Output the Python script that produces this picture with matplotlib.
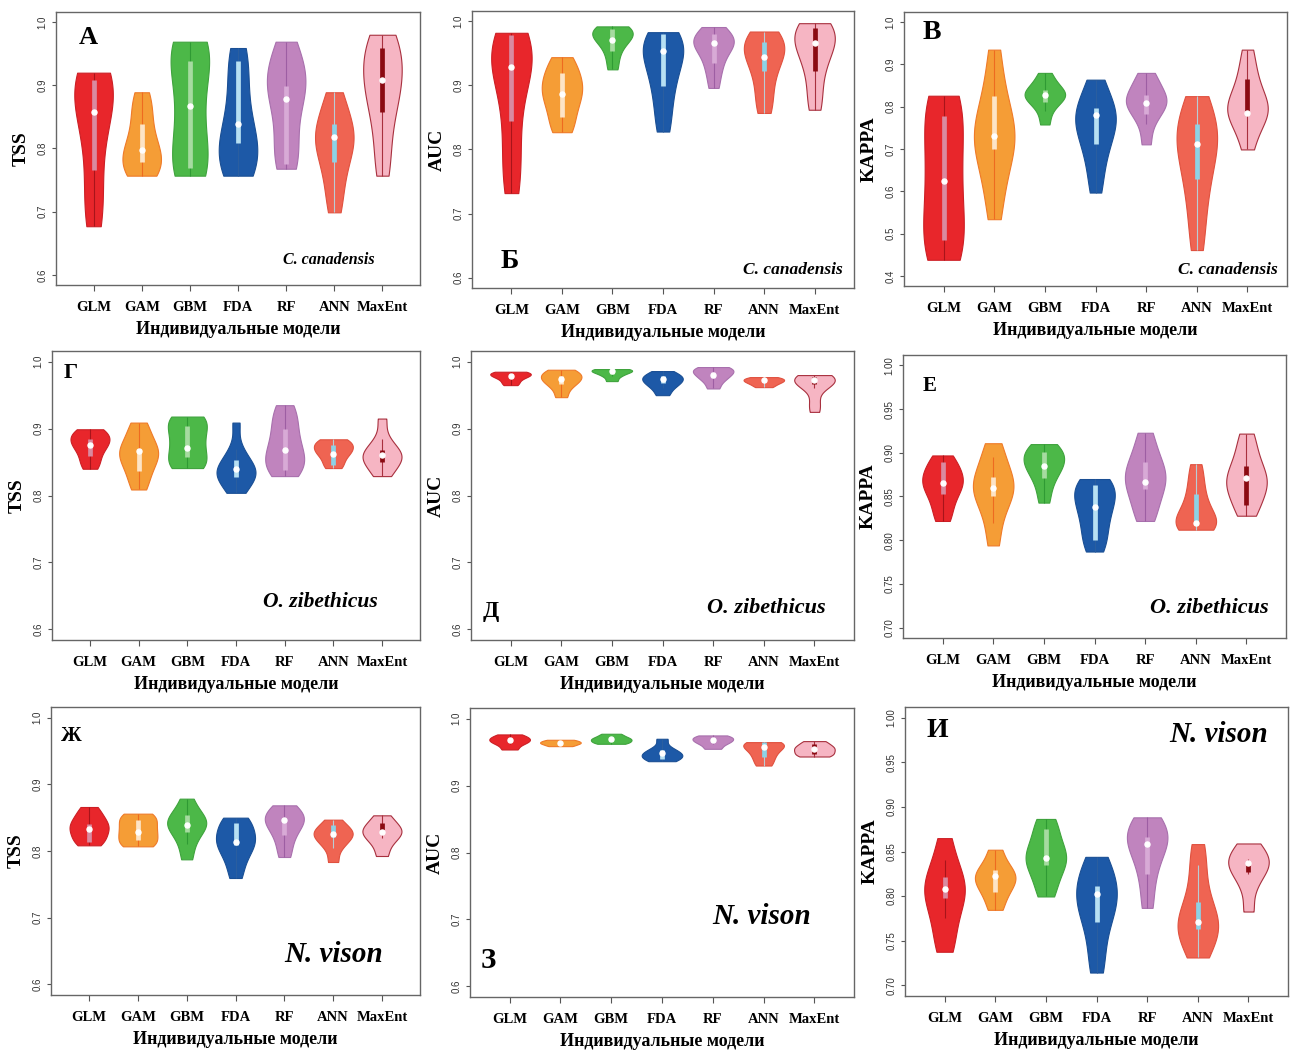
import numpy as np
import matplotlib
matplotlib.use("Agg")
import matplotlib.pyplot as plt

# ---------------- data ----------------
models = ["GLM", "GAM", "GBM", "FDA", "RF", "ANN", "MaxEnt"]
xlabel_text = "Индивидуальные модели"

# Panel А: TSS, C. canadensis
A_vals = [
    [0.677, 0.70, 0.74, 0.78, 0.82, 0.85, 0.86, 0.88, 0.90, 0.91, 0.92, 0.92],
    [0.757, 0.76, 0.77, 0.78, 0.79, 0.80, 0.81, 0.83, 0.85, 0.87, 0.889],
    [0.757, 0.757, 0.76, 0.77, 0.785, 0.80, 0.82, 0.84, 0.86, 0.88, 0.90, 0.92, 0.935, 0.95, 0.96, 0.966, 0.969, 0.969],
    [0.757, 0.76, 0.775, 0.79, 0.80, 0.815, 0.83, 0.85, 0.88, 0.91, 0.94, 0.959],
    [0.768, 0.78, 0.80, 0.83, 0.86, 0.88, 0.895, 0.905, 0.915, 0.93, 0.95, 0.969],
    [0.699, 0.73, 0.76, 0.78, 0.80, 0.81, 0.82, 0.83, 0.845, 0.865, 0.889],
    [0.757, 0.79, 0.83, 0.86, 0.88, 0.895, 0.91, 0.925, 0.94, 0.955, 0.97, 0.98],
]
A_q1 = [0.766, 0.778, 0.769, 0.809, 0.775, 0.778, 0.858]
A_med = [0.858, 0.797, 0.868, 0.839, 0.879, 0.818, 0.909]
A_q3 = [0.909, 0.838, 0.938, 0.938, 0.899, 0.838, 0.959]

# Panel Б: AUC, C. canadensis
B_vals = [
    [0.732, 0.76, 0.80, 0.84, 0.88, 0.91, 0.93, 0.94, 0.95, 0.96, 0.975, 0.982],
    [0.827, 0.84, 0.86, 0.875, 0.885, 0.895, 0.905, 0.915, 0.93, 0.944],
    [0.925, 0.945, 0.96, 0.97, 0.975, 0.98, 0.985, 0.99, 0.992],
    [0.828, 0.86, 0.89, 0.91, 0.93, 0.945, 0.955, 0.965, 0.975, 0.983],
    [0.896, 0.92, 0.935, 0.95, 0.96, 0.965, 0.97, 0.975, 0.98, 0.991],
    [0.857, 0.88, 0.905, 0.925, 0.94, 0.95, 0.96, 0.965, 0.975, 0.984],
    [0.862, 0.89, 0.92, 0.94, 0.955, 0.965, 0.975, 0.985, 0.99, 0.997],
]
B_q1 = [0.844, 0.851, 0.954, 0.899, 0.935, 0.922, 0.922]
B_med = [0.928, 0.887, 0.971, 0.953, 0.966, 0.945, 0.966]
B_q3 = [0.978, 0.920, 0.988, 0.980, 0.980, 0.968, 0.990]

# Panel В: KAPPA, C. canadensis
C_vals = [
    [0.438, 0.44, 0.46, 0.49, 0.52, 0.555, 0.59, 0.625, 0.66, 0.695, 0.73, 0.77, 0.80, 0.82, 0.826],
    [0.534, 0.60, 0.65, 0.69, 0.71, 0.73, 0.75, 0.77, 0.81, 0.86, 0.935],
    [0.758, 0.79, 0.81, 0.82, 0.825, 0.83, 0.835, 0.845, 0.86, 0.88],
    [0.597, 0.65, 0.69, 0.72, 0.74, 0.76, 0.775, 0.79, 0.80, 0.83, 0.864],
    [0.711, 0.76, 0.785, 0.80, 0.81, 0.815, 0.825, 0.84, 0.86, 0.88],
    [0.461, 0.53, 0.59, 0.63, 0.67, 0.70, 0.72, 0.74, 0.76, 0.79, 0.825],
    [0.699, 0.74, 0.77, 0.78, 0.79, 0.80, 0.815, 0.83, 0.86, 0.89, 0.935],
]
C_q1 = [0.485, 0.700, 0.811, 0.713, 0.782, 0.628, 0.785]
C_med = [0.624, 0.730, 0.827, 0.780, 0.809, 0.711, 0.785]
C_q3 = [0.777, 0.825, 0.840, 0.797, 0.827, 0.759, 0.865]

# Panel Г: TSS, O. zibethicus
D_vals = [
    [0.840, 0.85, 0.86, 0.87, 0.875, 0.88, 0.885, 0.89, 0.895, 0.899],
    [0.809, 0.825, 0.84, 0.85, 0.86, 0.865, 0.87, 0.88, 0.895, 0.909],
    [0.841, 0.843, 0.85, 0.86, 0.87, 0.88, 0.89, 0.90, 0.91, 0.916, 0.918],
    [0.804, 0.815, 0.825, 0.83, 0.835, 0.84, 0.845, 0.855, 0.87, 0.909],
    [0.829, 0.84, 0.845, 0.855, 0.865, 0.875, 0.89, 0.905, 0.92, 0.935],
    [0.841, 0.85, 0.86, 0.865, 0.87, 0.875, 0.88, 0.884],
    [0.829, 0.84, 0.85, 0.855, 0.86, 0.865, 0.87, 0.885, 0.915],
]
D_q1 = [0.859, 0.836, 0.858, 0.827, 0.838, 0.845, 0.850]
D_med = [0.876, 0.866, 0.871, 0.839, 0.868, 0.862, 0.861]
D_q3 = [0.885, 0.869, 0.904, 0.853, 0.899, 0.875, 0.868]

# Panel Д: AUC, O. zibethicus
E_vals = [
    [0.965, 0.97, 0.975, 0.978, 0.98, 0.982, 0.984, 0.985],
    [0.947, 0.96, 0.968, 0.972, 0.976, 0.98, 0.984, 0.988],
    [0.971, 0.978, 0.982, 0.985, 0.987, 0.988, 0.989],
    [0.950, 0.96, 0.966, 0.97, 0.974, 0.977, 0.98, 0.986],
    [0.960, 0.97, 0.976, 0.98, 0.984, 0.987, 0.99, 0.992],
    [0.962, 0.966, 0.969, 0.971, 0.973, 0.975, 0.977],
    [0.925, 0.94, 0.96, 0.966, 0.97, 0.973, 0.976, 0.978, 0.98],
]
E_q1 = [0.975, 0.966, 0.982, 0.968, 0.975, 0.969, 0.966]
E_med = [0.979, 0.974, 0.986, 0.974, 0.980, 0.972, 0.973]
E_q3 = [0.982, 0.979, 0.988, 0.978, 0.985, 0.974, 0.977]

# Panel Е: KAPPA, O. zibethicus
F_vals = [
    [0.822, 0.835, 0.848, 0.857, 0.863, 0.868, 0.873, 0.88, 0.888, 0.897],
    [0.794, 0.82, 0.84, 0.85, 0.858, 0.863, 0.87, 0.88, 0.895, 0.911],
    [0.843, 0.86, 0.872, 0.88, 0.885, 0.89, 0.895, 0.90, 0.905, 0.91],
    [0.787, 0.80, 0.812, 0.825, 0.835, 0.843, 0.852, 0.858, 0.865, 0.87],
    [0.822, 0.835, 0.85, 0.86, 0.867, 0.875, 0.882, 0.89, 0.905, 0.923],
    [0.812, 0.814, 0.817, 0.82, 0.825, 0.833, 0.843, 0.855, 0.87, 0.887],
    [0.828, 0.84, 0.852, 0.86, 0.866, 0.872, 0.88, 0.89, 0.905, 0.922],
]
F_q1 = [0.853, 0.851, 0.871, 0.800, 0.859, 0.817, 0.840]
F_med = [0.8655, 0.860, 0.885, 0.838, 0.867, 0.820, 0.871]
F_q3 = [0.890, 0.872, 0.901, 0.863, 0.890, 0.853, 0.885]

# Panel Ж: TSS, N. vison
G_vals = [
    [0.8085, 0.815, 0.822, 0.83, 0.835, 0.84, 0.847, 0.855, 0.866],
    [0.807, 0.81, 0.817, 0.825, 0.83, 0.838, 0.845, 0.852, 0.856],
    [0.7875, 0.81, 0.825, 0.835, 0.84, 0.845, 0.85, 0.86, 0.8785],
    [0.7595, 0.78, 0.795, 0.805, 0.812, 0.818, 0.825, 0.835, 0.845, 0.85],
    [0.791, 0.81, 0.825, 0.835, 0.843, 0.848, 0.853, 0.86, 0.8685],
    [0.7835, 0.805, 0.815, 0.822, 0.826, 0.83, 0.835, 0.847],
    [0.7925, 0.81, 0.82, 0.826, 0.83, 0.835, 0.842, 0.8535],
]
G_q1 = [0.8135, 0.816, 0.8285, 0.8085, 0.8235, 0.821, 0.831]
G_med = [0.8335, 0.8285, 0.8385, 0.8135, 0.847, 0.826, 0.8285]
G_q3 = [0.841, 0.846, 0.8535, 0.842, 0.850, 0.8385, 0.842]

# Panel З: AUC, N. vison
H_vals = [
    [0.954, 0.962, 0.966, 0.969, 0.972, 0.9765],
    [0.959, 0.962, 0.964, 0.966, 0.9685],
    [0.9625, 0.965, 0.968, 0.97, 0.973, 0.9775],
    [0.9365, 0.94, 0.944, 0.947, 0.95, 0.956, 0.97],
    [0.955, 0.962, 0.966, 0.969, 0.972, 0.975],
    [0.930, 0.94, 0.948, 0.955, 0.96, 0.963, 0.965],
    [0.9435, 0.947, 0.952, 0.956, 0.96, 0.9665],
]
H_q1 = [0.965, 0.962, 0.967, 0.940, 0.965, 0.9425, 0.9475]
H_med = [0.9675, 0.9635, 0.969, 0.949, 0.9675, 0.9575, 0.955]
H_q3 = [0.970, 0.965, 0.971, 0.9525, 0.970, 0.965, 0.9625]

# Panel И: KAPPA, N. vison
I_vals = [
    [0.7376, 0.755, 0.775, 0.79, 0.80, 0.808, 0.815, 0.825, 0.84, 0.865],
    [0.7846, 0.80, 0.81, 0.817, 0.822, 0.827, 0.835, 0.852],
    [0.7996, 0.815, 0.83, 0.838, 0.843, 0.85, 0.86, 0.875, 0.8865],
    [0.7143, 0.74, 0.765, 0.78, 0.79, 0.80, 0.808, 0.818, 0.83, 0.844],
    [0.7868, 0.815, 0.835, 0.85, 0.858, 0.865, 0.872, 0.88, 0.8883],
    [0.7312, 0.745, 0.758, 0.765, 0.77, 0.777, 0.79, 0.81, 0.835, 0.8583],
    [0.7827, 0.81, 0.825, 0.832, 0.837, 0.842, 0.85, 0.859],
]
I_q1 = [0.7981, 0.8045, 0.8346, 0.7707, 0.8244, 0.7632, 0.827]
I_med = [0.8083, 0.8226, 0.8429, 0.8026, 0.8583, 0.7707, 0.8372]
I_q3 = [0.8214, 0.829, 0.8748, 0.8113, 0.8665, 0.7932, 0.8346]

# ---------------- styles ----------------
fills = ["#e8262b", "#f59d36", "#4cb848", "#1d59a7", "#c084be", "#ef6452", "#f6b5c3"]
edges = ["#cc1f25", "#ef7a28", "#3fa33d", "#1a4f94", "#a870ad", "#e0513f", "#a8303e"]
wcols = ["#a8141a", "#ee6a20", "#2f9a34", "#2a5ea0", "#9d5ea3", "#b9cdd5", "#a8303e"]
bcols = ["#d98aa0", "#fde4c6", "#a6dba0", "#b7e0f3", "#d8aad6", "#8dd2e6", "#8b0a12"]

SERIF = "Liberation Serif"
SANS = "Liberation Sans"

W, H = 1293, 1052
fig = plt.figure(figsize=(W / 100, H / 100), dpi=100)

panels = [
    ("А", "TSS", "C. canadensis", A_vals, A_q1, A_med, A_q3, 0.6, 1.0, 0.1, "%.1f",
     (56, 12, 420, 285), (0.088, 0.908), 19, (0.75, 0.09), 11.5),
    ("Б", "AUC", "C. canadensis", B_vals, B_q1, B_med, B_q3, 0.6, 1.0, 0.1, "%.1f",
     (472, 11, 854, 288), (0.10, 0.094), 20, (0.84, 0.065), 12.5),
    ("В", "KAPPA", "C. canadensis", C_vals, C_q1, C_med, C_q3, 0.4, 1.0, 0.1, "%.1f",
     (904, 12, 1287, 286), (0.072, 0.925), 20, (0.845, 0.06), 12.5),
    ("Г", "TSS", "O. zibethicus", D_vals, D_q1, D_med, D_q3, 0.6, 1.0, 0.1, "%.1f",
     (52, 351, 420, 640), (0.05, 0.923), 16, (0.728, 0.13), 15.5),
    ("Д", "AUC", "O. zibethicus", E_vals, E_q1, E_med, E_q3, 0.6, 1.0, 0.1, "%.1f",
     (471, 351, 854, 640), (0.052, 0.10), 17, (0.77, 0.11), 16),
    ("Е", "KAPPA", "O. zibethicus", F_vals, F_q1, F_med, F_q3, 0.70, 1.0, 0.05, "%.2f",
     (903, 355, 1286, 638), (0.07, 0.89), 15, (0.80, 0.105), 16),
    ("Ж", "TSS", "N. vison", G_vals, G_q1, G_med, G_q3, 0.6, 1.0, 0.1, "%.1f",
     (51, 707, 420, 995), (0.056, 0.90), 15, (0.767, 0.14), 21),
    ("З", "AUC", "N. vison", H_vals, H_q1, H_med, H_q3, 0.6, 1.0, 0.1, "%.1f",
     (470, 708, 854, 997), (0.048, 0.127), 21, (0.76, 0.28), 21),
    ("И", "KAPPA", "N. vison", I_vals, I_q1, I_med, I_q3, 0.70, 1.0, 0.05, "%.2f",
     (905, 707, 1288, 996), (0.085, 0.92), 20, (0.82, 0.905), 21),
]

positions = np.arange(1, len(models) + 1)

for (letter, ylab, species, vals, q1, med, q3, lo, hi, step, fmt,
     rect, lpos, lsize, spos, ssize) in panels:
    l, t, r, b = rect
    ax = fig.add_axes([l / W, 1 - b / H, (r - l) / W, (b - t) / H])
    pad = (hi - lo) * 0.04
    ax.set_ylim(lo - pad, hi + pad)
    ax.set_xlim(0.5 - 0.28, 7.5 + 0.28)

    parts = ax.violinplot(vals, positions=positions, widths=0.8,
                          showextrema=False, showmeans=False, showmedians=False,
                          bw_method=0.55)
    for i, body in enumerate(parts["bodies"]):
        body.set_facecolor(fills[i])
        body.set_edgecolor(edges[i])
        body.set_alpha(1.0)
        body.set_linewidth(0.8)
        body.set_zorder(2)

    for i, s in enumerate(vals):
        s = np.asarray(s)
        iqr = q3[i] - q1[i]
        wlo = s[s >= q1[i] - 1.5 * iqr].min()
        whi = s[s <= q3[i] + 1.5 * iqr].max()
        x = positions[i]
        ax.plot([x, x], [wlo, whi], color=wcols[i], lw=0.8, zorder=3,
                solid_capstyle="butt")
        ax.plot([x, x], [q1[i], q3[i]], color=bcols[i], lw=3.4, zorder=4,
                solid_capstyle="butt")
        ax.plot([x], [med[i]], marker="o", ms=3.6, color="white",
                markeredgecolor="white", zorder=5)

    yt = np.round(np.arange(lo, hi + step / 2, step), 3)
    ax.set_yticks(yt)
    ax.set_yticklabels([fmt % v for v in yt], rotation=90, va="center",
                       fontsize=7, color="#333333", family=SANS)
    ax.set_xticks(positions)
    ax.set_xticklabels(models, fontsize=10.5, fontweight="bold", family=SERIF)
    ax.tick_params(axis="y", length=3, width=0.8, pad=3, color="#555555")
    ax.tick_params(axis="x", length=4.5, width=0.8, pad=7, color="#555555")
    for sp in ax.spines.values():
        sp.set_color("#666666")
        sp.set_linewidth(1.0)

    ax.set_xlabel(xlabel_text, fontsize=13, fontweight="bold", family=SERIF,
                  labelpad=5)
    ax.set_ylabel(ylab, fontsize=14, fontweight="bold", family=SERIF)
    ax.yaxis.set_label_coords(-26 / (r - l), 0.5)

    ax.text(lpos[0], lpos[1], letter, transform=ax.transAxes, fontsize=lsize,
            fontweight="bold", family=SERIF, ha="center", va="center")
    ax.text(spos[0], spos[1], species, transform=ax.transAxes, fontsize=ssize,
            fontweight="bold", fontstyle="italic", family=SERIF,
            ha="center", va="center")

fig.savefig("out.png", dpi=100, facecolor="white")
